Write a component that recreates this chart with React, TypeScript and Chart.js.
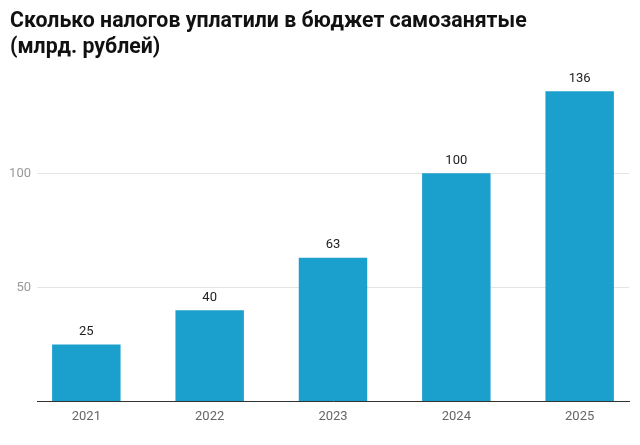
import React, { useEffect, useRef } from "react";
import { Chart, registerables } from "chart.js";

Chart.register(...registerables);

const YEARS = ["2021", "2022", "2023", "2024", "2025"];
const TAXES = [25, 40, 63, 100, 136];
const TITLE_LINES = ["Сколько налогов уплатили в бюджет самозанятые", "(млрд. рублей)"];

const BAR_COLOR = "#1b9fcc";

const valueLabels = {
  id: "valueLabels",
  afterDatasetsDraw(chart: Chart) {
    const { ctx } = chart;
    const meta = chart.getDatasetMeta(0);
    ctx.save();
    ctx.font = "13px Roboto";
    ctx.fillStyle = "#222";
    ctx.textAlign = "center";
    ctx.textBaseline = "middle";
    meta.data.forEach((bar: any, i: number) => {
      ctx.fillText(String(TAXES[i]), bar.x, bar.y - 12.5);
    });
    ctx.restore();
  },
};

export default function App() {
  const canvasRef = useRef<HTMLCanvasElement>(null);

  useEffect(() => {
    if (!canvasRef.current) return;
    const chart = new Chart(canvasRef.current, {
      type: "bar",
      data: {
        datasets: [
          {
            data: TAXES.map((v, i) => ({ x: i, y: v })),
            backgroundColor: BAR_COLOR,
            borderWidth: 0,
            categoryPercentage: 1,
            barPercentage: 0.555,
          },
        ],
      },
      options: {
        responsive: false,
        animation: false,
        layout: { padding: { left: 10, right: 11, top: 0, bottom: 12 } },
        plugins: {
          legend: { display: false },
          tooltip: { enabled: false },
          title: {
            display: true,
            text: TITLE_LINES,
            align: "start",
            color: "#111",
            font: { family: "Roboto", size: 21.3, weight: "bold", lineHeight: 1.2 },
            padding: { top: 9, bottom: 22 },
          },
        },
        scales: {
          x: {
            type: "linear",
            offset: false,
            min: -0.4,
            max: 4.4,
            grid: { display: false, drawTicks: false, offset: false },
            border: { display: true, color: "#333", width: 1 },
            ticks: {
              stepSize: 1,
              includeBounds: false,
              padding: 8,
              color: "#666",
              font: { family: "Roboto", size: 13 },
              callback: (v: any) => YEARS[v] ?? "",
            },
          },
          y: {
            min: 0,
            max: 140,
            afterFit: (scale: any) => {
              scale.width = 27;
            },
            grid: {
              drawTicks: false,
              color: (c: any) =>
                c.tick && c.tick.value !== 0 && c.tick.value % 50 === 0 ? "#e4e4e4" : "transparent",
            },
            border: { display: false },
            ticks: {
              stepSize: 50,
              padding: 6,
              color: "#999",
              font: { family: "Roboto", size: 13 },
              callback: (v: any) => (v !== 0 && v % 50 === 0 ? String(v) : ""),
            },
          },
        },
      },
      plugins: [valueLabels],
    });
    return () => chart.destroy();
  }, []);

  return (
    <div style={{ position: "absolute", left: 0, top: 0, width: 640, height: 445, background: "#fff" }}>
      <canvas ref={canvasRef} width={640} height={445} />
    </div>
  );
}
